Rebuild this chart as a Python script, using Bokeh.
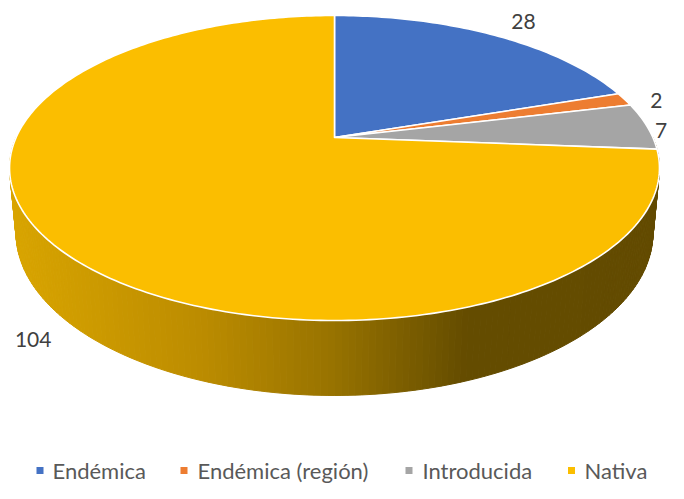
import numpy as np
from bokeh.plotting import figure
from bokeh.models import Range1d, ColumnDataSource
from bokeh.core.properties import value
from bokeh.embed import file_html
from bokeh.resources import INLINE

# ---------------- data ----------------
categories = ["Endémica", "Endémica (región)", "Introducida", "Nativa"]
counts = [28, 2, 7, 104]
colors = ["#4472C4", "#ED7D31", "#A5A5A5", "#FBBE00"]

# ---------------- styling / geometry ----------------
FONT = "Lato"
CX, CY = 334.0, 137.0      # projected centre of the pie (screen px)
A, B = 318.4, 146.4        # horizontal / vertical radius factors
E = 0.2                    # perspective factor
S, D = 0.98, 64.2          # bottom-face scale and thickness

def top_pt(a, r=1.0):
    u = r * np.sin(a)
    v = r * np.cos(a)
    w = 1 + E * v
    return CX + A * u / w, CY - B * v / w

def bot_pt(a):
    u = np.sin(a)
    v = np.cos(a)
    w = 1 + E * v
    return CX + S * A * u / w, CY + S * (D - B * v) / w

total = float(sum(counts))
cum = np.concatenate([[0.0], np.cumsum(counts)]) / total
angles = 2 * np.pi * cum

p = figure(width=668, height=483, x_range=Range1d(0, 668), y_range=Range1d(483, 0),
           output_backend="svg", toolbar_location=None, min_border=0,
           x_axis_location=None, y_axis_location=None)
p.grid.visible = False
p.outline_line_color = None
p.background_fill_color = "white"
p.border_fill_color = "white"

# ---------------- side (gradient made of strips) ----------------
ts = np.linspace(np.pi / 2, 3 * np.pi / 2, 181)
gx = [10, 200, 330, 400, 465, 700]
gr = [217, 188, 152, 125, 100, 99]
gg = [165, 140, 115, 95, 76, 75]
sx, sy, sc = [], [], []
for i in range(len(ts) - 1):
    t0, t1 = ts[i], ts[i + 1]
    x0, y0 = top_pt(t0)
    x1, y1 = top_pt(t1)
    bx1, by1 = bot_pt(t1)
    bx0, by0 = bot_pt(t0)
    xs = [x0, x1, bx1, bx0]
    ys = [y0, y1, by1, by0]
    mx = np.mean(xs)
    rr = int(round(np.interp(mx, gx, gr)))
    g2 = int(round(np.interp(mx, gx, gg)))
    sx.append(xs)
    sy.append(ys)
    sc.append("#%02x%02x%02x" % (rr, g2, 0))
p.patches(xs="xs", ys="ys", fill_color="c", line_color="c", line_width=1,
          source=ColumnDataSource(dict(xs=sx, ys=sy, c=sc)))

# ---------------- top face wedges ----------------
wx, wy = [], []
for i in range(len(counts)):
    a0, a1 = angles[i], angles[i + 1]
    n = max(4, int(np.degrees(a1 - a0)))
    aa = np.linspace(a0, a1, n)
    px, py = top_pt(aa)
    wx.append([CX] + list(px))
    wy.append([CY] + list(py))
p.patches(xs="xs", ys="ys", fill_color="c", line_color="white", line_width=1.6,
          line_join="round",
          source=ColumnDataSource(dict(xs=wx, ys=wy, c=colors)))

# ---------------- data labels ----------------
label_nudge = [(2, 3), (0, 5), (-18, 5), (-10, -2)]
lx, ly = [], []
for i in range(len(counts)):
    mid = 0.5 * (angles[i] + angles[i + 1])
    if np.cos(mid) < 0:
        ex, ey = bot_pt(mid)
    else:
        ex, ey = top_pt(mid)
    dx, dy = ex - CX, ey - CY
    nrm = np.hypot(dx, dy)
    lx.append(ex + 32 * dx / nrm + label_nudge[i][0])
    ly.append(ey + 32 * dy / nrm + label_nudge[i][1])
p.text(x=lx, y=ly, text=[str(c) for c in counts], text_align="center",
       text_baseline="middle", text_font=value(FONT), text_font_size="21px",
       text_color="#404040")

# ---------------- legend ----------------
leg_sq_x = [39.5, 183.5, 408.5, 571]
leg_tx_x = [52, 197, 422, 584]
LEG_Y = 470
p.scatter(x=leg_sq_x, y=[LEG_Y] * 4, marker="square", size=7, fill_color=colors,
          line_color=None)
p.text(x=leg_tx_x, y=[LEG_Y] * 4, text=categories, text_align="left",
       text_baseline="middle", text_font=value(FONT), text_font_size="22px",
       text_color="#595959")

open("out.html", "w").write(file_html(p, INLINE))
